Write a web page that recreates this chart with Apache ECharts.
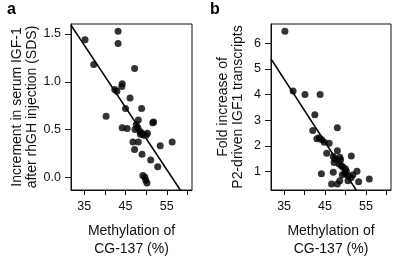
<!DOCTYPE html>
<html>
<head>
<meta charset="UTF-8">
<script type="text/javascript" src="https://cdn.jsdelivr.net/npm/echarts@6/dist/echarts.min.js"></script>
<style>
  body { margin: 0; background: #fff; }
  #chartmain { width: 394px; height: 257px; }
</style>
</head>
<body>
<div id="chartmain"></div>
<script type="text/javascript">
// panel a: methylation (%) vs increment in serum IGF-1 (SDS)
var methylA = [35.2, 43.2, 43.2, 37.3, 47.2, 44.2, 44.1, 42.4, 42.9, 46.1, 40.3, 45.0, 48.9, 48.1, 47.6,
               51.8, 51.6, 44.2, 45.4, 47.3, 48.0, 48.5, 49.0, 49.4, 50.0, 50.3, 48.6, 46.8, 48.1, 47.2,
               49.0, 56.3, 53.4, 51.1, 52.8, 49.2, 49.7, 49.9, 50.2];
var igfA    = [1.44, 1.53, 1.40, 1.18, 1.14, 0.98, 0.95, 0.92, 0.90, 0.83, 0.64, 0.72, 0.72, 0.60, 0.55,
               0.58, 0.57, 0.52, 0.51, 0.50, 0.52, 0.48, 0.46, 0.44, 0.44, 0.46, 0.45, 0.37, 0.37, 0.29,
               0.24, 0.37, 0.33, 0.18, 0.11, 0.02, 0.00, -0.03, -0.06];
// panel b: methylation (%) vs fold increase of P2-driven IGF1 transcripts
var methylB = [35.2, 37.2, 40.1, 43.8, 42.5, 42.0, 48.0, 43.0, 43.6, 44.2, 44.8, 46.0, 45.4, 48.0, 47.0,
               47.4, 48.6, 48.8, 51.4, 47.2, 48.4, 49.0, 49.4, 50.0, 50.2, 47.0, 44.1, 52.8, 50.6, 51.8,
               51.4, 46.6, 48.0, 48.6, 53.2, 55.8, 49.8, 49.2, 50.6];
var foldB   = [6.48, 4.14, 4.00, 4.00, 3.21, 2.60, 2.70, 2.27, 2.31, 2.23, 2.14, 2.10, 1.71, 1.80, 1.58,
               1.48, 1.55, 1.45, 1.60, 1.35, 1.29, 1.22, 1.16, 1.09, 1.00, 0.96, 0.91, 1.00, 0.83, 0.87,
               0.76, 0.50, 0.50, 0.63, 0.59, 0.70, 0.92, 0.87, 0.63];
// regression lines [intercept, slope]
var fitA = [3.666, -0.0652];
var fitB = [13.24, -0.2466];

var xTicks = [35, 40, 45, 50, 55, 60];
var xLabels = [35, 45, 55];
var yTicksA = [0, 0.5, 1, 1.5];
var yTicksB = [1, 2, 3, 4, 5, 6];

var font = 'Liberation Sans, Arial, sans-serif';

function pairs(xs, ys) {
  var out = [];
  for (var i = 0; i < xs.length; i++) out.push([xs[i], ys[i]]);
  return out;
}
function fitLine(fit, x0, x1) {
  return [[x0, fit[0] + fit[1] * x0], [x1, fit[0] + fit[1] * x1]];
}

function xAxisOf(grid) {
  return {
    gridIndex: grid, type: 'value', min: 31.8, max: 61.1,
    splitLine: { show: false },
    axisLine: { show: true, onZero: false, lineStyle: { color: '#111', width: 1 } },
    axisTick: { show: true, inside: false, length: 5, customValues: xTicks, lineStyle: { color: '#111' } },
    axisLabel: { customValues: xLabels, color: '#111', fontSize: 12.5, fontFamily: font, margin: 10 },
    name: 'Methylation of\nCG-137 (%)', nameLocation: 'middle', nameGap: 32,
    nameTextStyle: { color: '#111', fontSize: 14, fontFamily: font, lineHeight: 18 }
  };
}
function yAxisOf(grid, min, max, ticks, name, gap, fmt) {
  return {
    gridIndex: grid, type: 'value', min: min, max: max,
    splitLine: { show: false },
    axisLine: { show: true, onZero: false, lineStyle: { color: '#111', width: 1 } },
    axisTick: { show: true, inside: false, length: 6, customValues: ticks, lineStyle: { color: '#111' } },
    axisLabel: { customValues: ticks, color: '#111', fontSize: 12.5, fontFamily: font, margin: 10, formatter: fmt },
    name: name, nameLocation: 'middle', nameRotate: 90, nameGap: gap,
    nameTextStyle: { color: '#111', fontSize: 14, fontFamily: font, lineHeight: 14.5 }
  };
}

var option = {
  animation: false,
  backgroundColor: '#fff',
  title: [
    { text: 'a', left: 2, top: -3, textStyle: { fontSize: 16, fontWeight: 'bold', color: '#000', fontFamily: font } },
    { text: 'b', left: 205, top: -3, textStyle: { fontSize: 16, fontWeight: 'bold', color: '#000', fontFamily: font } }
  ],
  grid: [
    { left: 71, top: 24, width: 121, height: 166, outerBoundsMode: 'none', containLabel: false,
      show: true, borderColor: '#111', borderWidth: 1 },
    { left: 271, top: 24, width: 120, height: 166, outerBoundsMode: 'none', containLabel: false,
      show: true, borderColor: '#111', borderWidth: 1 }
  ],
  xAxis: [xAxisOf(0), xAxisOf(1)],
  yAxis: [
    yAxisOf(0, -0.133, 1.605, yTicksA, 'Increment in serum IGF-1\nafter rhGH injection (SDS)', 32,
      function (v) { return v.toFixed(1); }),
    yAxisOf(1, 0.27, 6.76, yTicksB, 'Fold increase of\nP2-driven IGF1 transcripts', 26,
      function (v) { return String(v); })
  ],
  series: [
    { type: 'scatter', xAxisIndex: 0, yAxisIndex: 0, data: pairs(methylA, igfA),
      symbolSize: 7, itemStyle: { color: '#000' } },
    { type: 'line', xAxisIndex: 0, yAxisIndex: 0, data: fitLine(fitA, 31.8, 61.1), clip: true,
      symbol: 'none', lineStyle: { color: '#000', width: 1.6 } },
    { type: 'scatter', xAxisIndex: 1, yAxisIndex: 1, data: pairs(methylB, foldB),
      symbolSize: 7, itemStyle: { color: '#000' } },
    { type: 'line', xAxisIndex: 1, yAxisIndex: 1, data: fitLine(fitB, 31.8, 61.1), clip: true,
      symbol: 'none', lineStyle: { color: '#000', width: 1.6 } }
  ]
};

var myChart = echarts.init(document.getElementById('chartmain'));
myChart.setOption(option);
</script>
</body>
</html>
